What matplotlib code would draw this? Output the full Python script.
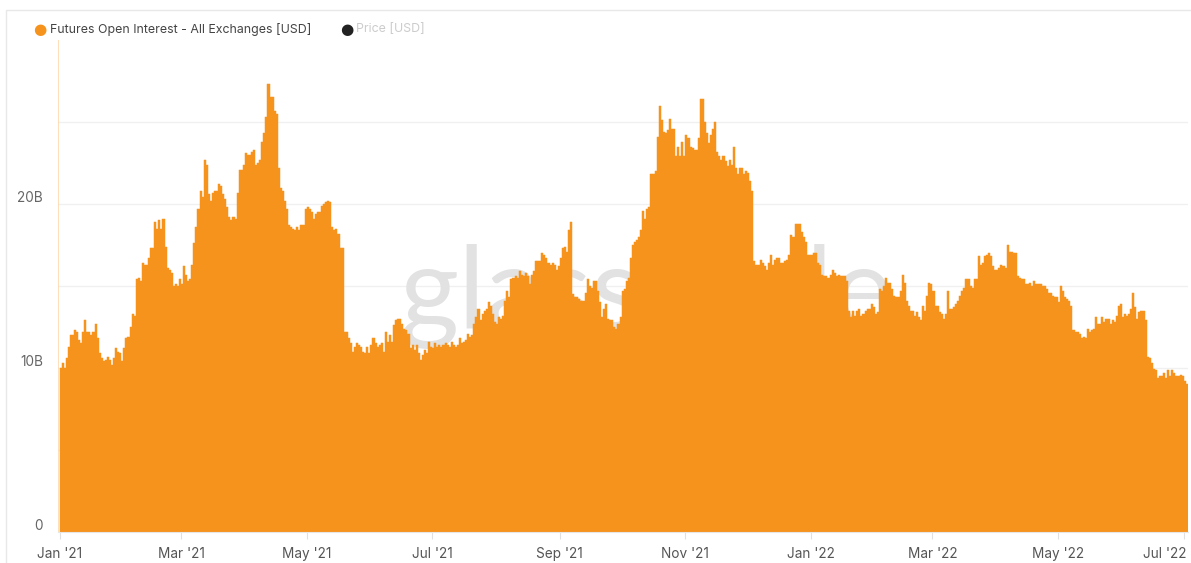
import matplotlib
matplotlib.use("Agg")
import matplotlib.pyplot as plt
import matplotlib.dates as mdates
import matplotlib.transforms as mtransforms
from matplotlib.patches import Rectangle
import numpy as np
import pandas as pd

# ---- data (Futures open interest, billions USD, daily from 2021-01-01) ----
start_date = "2021-01-01"
oi_part1 = [10.0, 10.3, 10.0, 10.6, 11.3, 12.0, 12.0, 12.3, 12.2, 11.7,
            11.5, 12.2, 12.9, 12.2, 12.2, 12.0, 12.2, 12.7, 11.8, 10.9,
            10.6, 10.4, 10.5, 10.7, 10.5, 10.2, 10.6, 11.2, 11.0, 10.9,
            10.4, 11.2, 11.8, 11.9, 12.5, 13.3, 13.2, 15.4, 15.5, 15.3,
            16.4, 16.3, 16.3, 16.7, 17.3, 17.3, 18.9, 18.5, 19.0, 18.5,
            19.1, 17.4, 16.1, 16.0, 15.8, 15.0, 15.1, 15.0, 15.4, 15.1,
            16.2, 15.7, 15.3, 15.4, 16.3, 17.6, 18.6, 19.7, 20.8, 20.4,
            22.7, 22.4, 20.6, 20.2, 20.7, 20.8, 20.8, 21.2, 21.1, 20.6,
            20.3, 19.8, 19.2, 19.0, 19.2, 19.1, 20.7, 22.1, 22.1, 22.4,
            23.1]
oi_part2 = [23.0, 23.0, 23.2, 23.3, 22.4, 22.5, 22.7, 23.8, 24.3,
            25.3, 27.3, 26.5, 26.5, 25.7, 25.5, 22.2, 21.0, 20.8, 20.2,
            19.7, 18.7, 18.6, 18.5, 18.4, 18.6, 18.4, 18.7, 18.7, 19.7,
            19.8, 19.7, 19.5, 19.1, 19.4, 19.5, 19.5, 19.9, 20.0, 20.1,
            20.2, 20.1, 18.6, 18.4, 18.5, 18.2, 17.3, 17.3, 12.2, 12.2,
            11.8, 11.5, 11.0, 11.3, 11.5, 11.4, 11.3, 11.0,
            10.9, 11.3, 10.9, 11.4, 11.8, 11.5, 11.3, 11.4, 11.5, 11.0,
            12.2, 11.6, 12.0, 11.6, 12.6, 12.9, 13.0, 13.0, 12.7, 12.4,
            12.3, 12.1, 11.2, 11.4, 11.1, 11.4, 10.9, 10.5, 10.8, 11.1,
            10.9, 11.6, 11.3, 11.2, 11.5]
oi_part3 = [11.3, 11.4, 11.3, 11.4, 11.5, 11.4, 11.3, 11.6, 11.4, 11.3,
            11.4, 11.8, 11.5, 11.6, 11.7, 12.1, 11.9, 12.0, 12.7, 13.1,
            13.6, 12.9, 13.3, 13.5, 13.6, 14.0, 13.8, 13.3, 12.8, 12.7,
            13.1, 13.0, 13.2, 14.1, 14.7, 14.3, 15.4, 15.5, 15.6, 15.5,
            15.9, 15.7, 15.6, 15.8, 15.6, 15.1, 15.7, 15.9, 16.5, 16.5,
            16.5, 17.0, 16.9, 16.7, 16.4, 16.3, 16.4, 16.3, 16.0, 16.2,
            16.7, 17.3, 17.4, 17.1, 18.4, 18.9, 14.5, 14.3, 14.3, 14.2,
            14.1, 14.1, 14.6, 15.4, 15.0, 14.9, 15.3, 15.3, 14.7, 14.0,
            13.1, 13.6, 13.9, 13.0, 12.9, 12.9, 12.5, 12.4, 12.7, 13.1,
            14.7, 14.8, 15.3]
oi_part4 = [15.5, 16.7, 17.5, 17.7, 17.8, 18.0, 18.4, 19.6, 19.1, 19.7,
            19.8, 21.8, 21.8, 22.0, 24.1, 26.0, 25.1, 24.4, 24.3, 24.5,
            25.2, 24.6, 24.6, 22.9, 23.5, 22.9, 23.8, 22.9, 24.2, 24.0,
            23.5, 23.4, 23.3, 23.3, 24.0, 26.4, 26.4, 25.0, 24.3, 23.7,
            24.2, 24.6, 25.0, 23.2, 22.9, 22.7, 22.9, 22.6, 22.3, 22.7,
            22.4, 23.5, 22.2, 21.8, 22.2, 22.2, 21.8, 22.0, 21.9, 21.4,
            20.8, 16.5, 16.3, 16.3, 16.6, 16.4, 16.2, 16.0, 16.4, 16.9,
            16.3, 16.6, 16.7, 16.7, 16.4, 16.4, 16.5, 16.6, 16.9, 18.1,
            18.0, 18.8, 18.8, 18.8, 18.3, 18.0, 17.7, 16.9, 16.9, 16.9,
            17.0, 17.0]
oi_part5 = [16.4, 16.3, 15.7, 15.6, 15.6, 15.5, 15.7, 16.0, 15.8, 15.6,
            15.7, 15.6, 15.6, 15.6, 15.3, 13.5, 13.1, 13.5, 13.2, 13.5,
            13.6, 13.2, 13.3, 13.5, 13.6, 13.6, 13.9, 13.7, 13.3, 13.4,
            14.8, 14.7, 15.0, 15.5, 15.2, 15.2, 14.8, 14.4, 14.3, 14.3,
            14.7, 15.7, 15.2, 14.1, 13.8, 13.5, 13.5, 13.2, 13.4, 13.1,
            12.9, 13.8, 13.5, 14.4, 15.2, 15.1, 14.7, 13.8, 13.8, 13.4,
            13.3, 13.0, 13.3, 14.7, 13.6, 13.6, 13.7, 13.9, 14.1, 14.4,
            14.7, 14.9, 15.4, 15.4, 15.0, 14.9, 15.4, 15.4, 16.8, 16.3,
            16.4, 16.8, 16.9, 17.0, 16.8, 16.2, 16.0, 16.0, 16.1, 16.3,
            16.2, 16.1]
oi_part6 = [17.5, 17.1, 17.1, 17.0, 17.0, 15.6, 15.5, 15.4, 15.4, 15.1,
            15.1, 15.2, 15.0, 15.3, 15.1, 15.1, 15.1, 15.0, 15.0, 14.8,
            14.6, 14.6, 14.4, 14.3, 14.3, 14.0, 15.0, 14.7, 14.3, 14.2,
            14.1, 13.8, 12.3, 12.2, 12.2, 12.1, 11.8, 11.9, 11.8, 12.4,
            12.2, 12.3, 12.4, 13.1, 12.7, 12.7, 13.1, 12.8, 13.0, 13.0,
            12.7, 12.9, 12.8, 13.2, 13.8, 13.9, 13.1, 13.3, 13.2, 13.3,
            13.6, 14.6, 13.7, 13.0, 13.4, 13.5, 13.5, 12.9, 10.7, 10.6,
            10.3, 9.96, 9.9, 9.4, 9.5, 9.5, 9.7, 9.4, 9.9, 9.5,
            9.9, 9.7, 9.5, 9.5, 9.6, 9.5, 9.2, 9.0]

y_ticks = [0, 10, 20]
y_tick_labels = ["0", "10B", "20B"]
x_tick_dates = ["2021-01-01", "2021-03-01", "2021-05-01", "2021-07-01", "2021-09-01",
                "2021-11-01", "2022-01-01", "2022-03-01", "2022-05-01", "2022-07-01"]
x_tick_labels = ["Jan '21", "Mar '21", "May '21", "Jul '21", "Sep '21",
                 "Nov '21", "Jan '22", "Mar '22", "May '22", "Jul '22"]

oi = oi_part1 + oi_part2 + oi_part3 + oi_part4 + oi_part5 + oi_part6
dates = pd.date_range(start_date, periods=len(oi), freq="D")

# ---- figure ----
W, H = 1191, 563
fig = plt.figure(figsize=(W / 100, H / 100), dpi=100)
plt.rcParams['font.family'] = ['Inter', 'DejaVu Sans']

ax_left, ax_right, ax_top, ax_bottom = 58, 1188, 40, 532
ax = fig.add_axes([ax_left / W, (H - ax_bottom) / H, (ax_right - ax_left) / W, (ax_bottom - ax_top) / H])

orange = "#F6931D"
xnum = mdates.date2num(dates)
ax.bar(xnum, oi, width=1.0, align="edge", color=orange, edgecolor=orange,
       linewidth=0.35, zorder=2)

d0 = mdates.date2num(pd.Timestamp(start_date))
ax.set_xlim(d0 - 0.73, d0 + 548.1)
ax.set_ylim(0, 30)

# gridlines
for g in [5, 10, 15, 20, 25]:
    ax.axhline(g, color="#f0f0f0", linewidth=1, zorder=1)

for s in ["top", "right", "left"]:
    ax.spines[s].set_visible(False)
ax.spines["bottom"].set_color("#e6e6e6")
ax.spines["bottom"].set_zorder(3)

# left light-orange line
ax.axvline(d0 - 0.5, color="#FDD9AE", linewidth=1.2, zorder=3)

ax.set_yticks([])
for v, lab in zip(y_ticks, y_tick_labels):
    ax.text(-15 / (ax_right - ax_left), v + 0.15, lab, transform=ax.get_yaxis_transform(),
            ha="right", va="baseline", fontsize=9.8, color="#666666")

ax.set_xticks(mdates.date2num(pd.to_datetime(x_tick_dates)))
ax.set_xticklabels(x_tick_labels)
ax.tick_params(axis="x", length=5, color="#e0e0e0", labelsize=9.8, labelcolor="#555555", pad=6)
last = ax.get_xticklabels()[-1]
last.set_horizontalalignment("right")
last.set_transform(last.get_transform() + mtransforms.ScaledTranslation(3 / 100, 0, fig.dpi_scale_trans))

# watermark (behind bars)
ax.text(0.302, 0.415, "glassnode", transform=ax.transAxes, fontsize=82, color="#e2e2e2",
        ha="left", va="baseline", family=["Lato", "DejaVu Sans"], zorder=1.5)

# legend
fig.text(40 / W, 1 - 29.5 / H, "\u25CF", fontsize=11, color=orange, ha="center", va="center",
         family=["DejaVu Sans"])
fig.text(50 / W, 1 - 29.5 / H, "Futures Open Interest - All Exchanges [USD]", fontsize=8.9,
         color="#444444", ha="left", va="center")
fig.text(347 / W, 1 - 29.5 / H, "\u25CF", fontsize=11, color="#222222", ha="center", va="center",
         family=["DejaVu Sans"])
fig.text(356 / W, 1 - 29.5 / H, "Price [USD]", fontsize=8.9, color="#cccccc", ha="left", va="center")

# outer frame
fig.patches.append(Rectangle((6 / W, -0.01), (W - 5) / W, (H - 10) / H + 0.01,
                             transform=fig.transFigure, fill=False, edgecolor="#e8e8e8",
                             linewidth=1))

fig.savefig("out.png", dpi=100)
